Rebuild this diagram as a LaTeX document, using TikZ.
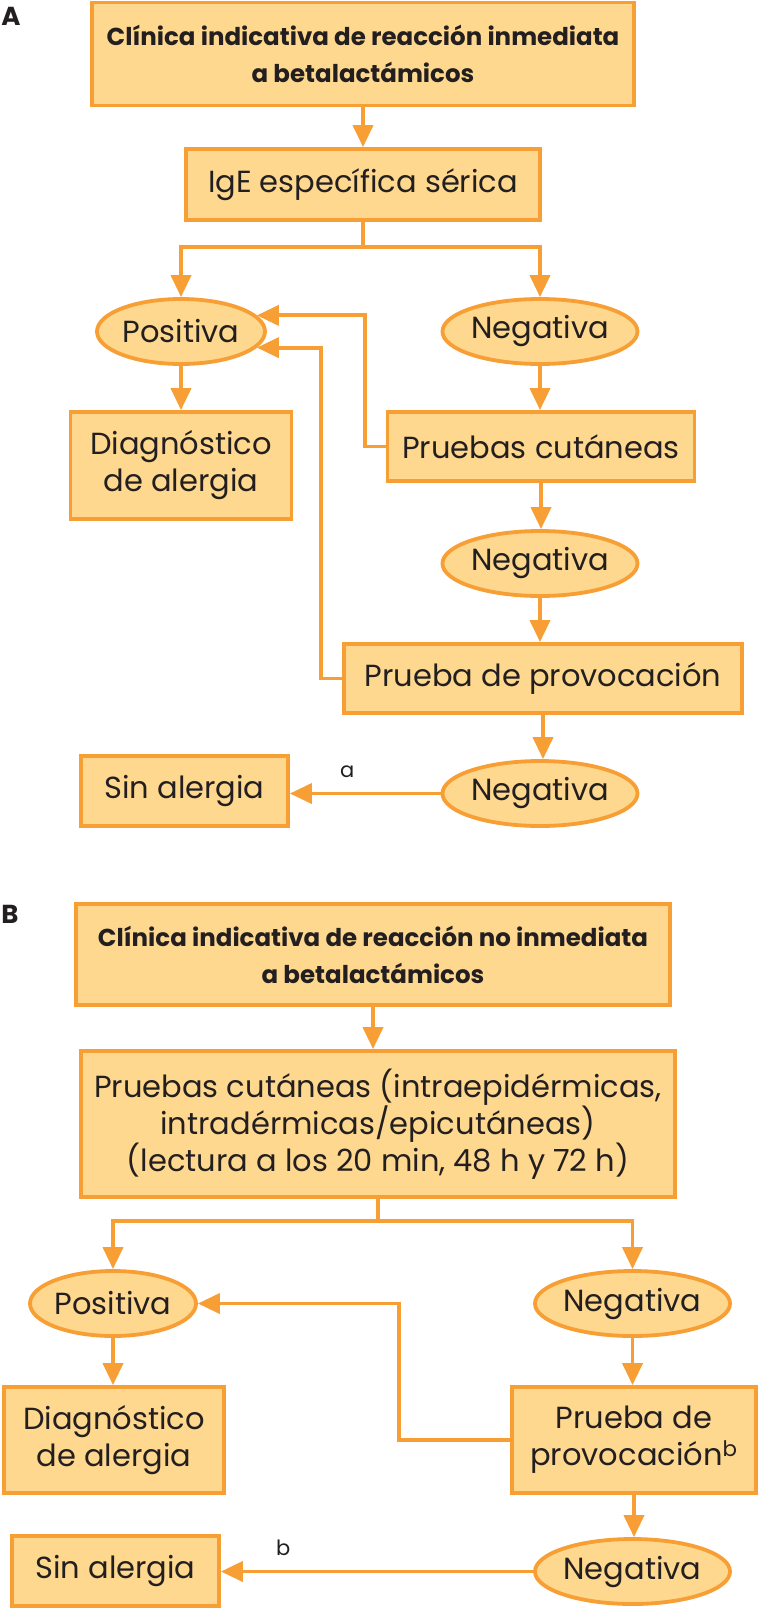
\documentclass[tikz,border=0pt]{standalone}
\usepackage{fontspec}
\setmainfont{Poppins}
\usetikzlibrary{arrows.meta,shapes.geometric}
\definecolor{borde}{RGB}{247,158,52}
\definecolor{relleno}{RGB}{254,216,142}
\definecolor{texto}{RGB}{35,31,32}
\tikzset{
  caja/.style={draw=borde, fill=relleno, line width=3.8pt, align=center, inner sep=0pt,
    text=texto, font=\fontsize{30.5}{37}\selectfont},
  titulo/.style={caja, font=\fontsize{24.5}{37}\selectfont\bfseries},
  elipse/.style={caja, ellipse, minimum width=#1, minimum height=65pt},
  flecha/.style={draw=borde, line width=3.8pt, -{Triangle[length=22pt,width=20pt]}},
  etiqueta/.style={text=texto, font=\fontsize{21}{21}\selectfont, inner sep=0pt},
  panel/.style={text=texto, font=\fontsize{26}{26}\selectfont\bfseries, inner sep=0pt},
}
\begin{document}
\begin{tikzpicture}[x=1pt,y=-1pt]
  \useasboundingbox (0,0) rectangle (759,1609);
  % A: reaccion inmediata
  \node[panel] (letraA) at (11,16) {A};
  \node[titulo, minimum width=542pt, minimum height=103pt] (tituloA) at (363,54)
    {Clínica indicativa de reacción inmediata\\a betalactámicos};
  \node[caja, minimum width=354pt, minimum height=71pt] (igeA) at (363,184.5) {IgE específica sérica};
  \node[elipse=168pt] (posA) at (181,331.5) {Positiva};
  \node[elipse=183pt] (negA) at (540,331.5) {Negativa};
  \node[caja, minimum width=221pt, minimum height=107pt] (diagA) at (181,465.5) {Diagnóstico\\de alergia};
  \node[caja, minimum width=307pt, minimum height=69pt] (cutA) at (541,446.5) {Pruebas cutáneas};
  \node[elipse=182pt] (neg2A) at (540,563.5) {Negativa};
  \node[caja, minimum width=398pt, minimum height=69pt] (provA) at (543,678.5) {Prueba de provocación};
  \node[elipse=182pt] (neg3A) at (540,793.5) {Negativa};
  \node[caja, minimum width=207pt, minimum height=70pt] (sinA) at (184.5,791) {Sin alergia};

  \draw[flecha] (tituloA.south) -- (tituloA.south |- igeA.north);
  \draw[flecha] (igeA.south) -- ++(0,25) -| (posA.north);
  \draw[flecha] (igeA.south) -- ++(0,25) -| (negA.north);
  \draw[flecha] (posA.south) -- (posA.south |- diagA.north);
  \foreach \a/\b in {negA/cutA, cutA/neg2A, neg2A/provA, provA/neg3A}
    \draw[flecha] (\a.south) -- (\a.south |- \b.north);
  \draw[flecha] (cutA.west) -- ++(-21,0) |- (posA.12);
  \draw[flecha] (provA.west) -- ++(-21,0) |- (posA.-12);
  \draw[flecha] (neg3A.west) -- (neg3A.west -| sinA.east)
    node[etiqueta, pos=0.62, above=14pt] (notaA) {a};

  % B: reaccion no inmediata
  \node[panel] (letraB) at (10,914) {B};
  \node[titulo, minimum width=594pt, minimum height=101pt] (tituloB) at (373,954.5)
    {Clínica indicativa de reacción no inmediata\\a betalactámicos};
  \node[caja, minimum width=594pt, minimum height=146pt] (cutB) at (378,1124)
    {Pruebas cutáneas (intraepidérmicas,\\intradérmicas/epicutáneas)\\(lectura a los 20 min, 48 h y 72 h)};
  \node[elipse=166pt] (posB) at (113,1303.5) {Positiva};
  \node[elipse=183pt] (negB) at (632.5,1303.5) {Negativa};
  \node[caja, minimum width=220pt, minimum height=106pt] (diagB) at (114,1440) {Diagnóstico\\de alergia};
  \node[caja, minimum width=244pt, minimum height=106pt] (provB) at (634,1440) {Prueba de\\provocación\textsuperscript{b}};
  \node[elipse=183pt] (neg2B) at (632.5,1571.5) {Negativa};
  \node[caja, minimum width=207pt, minimum height=70pt] (sinB) at (115.5,1571) {Sin alergia};

  \draw[flecha] (tituloB.south) -- (tituloB.south |- cutB.north);
  \draw[flecha] (cutB.south) -- ++(0,22) -| (posB.north);
  \draw[flecha] (cutB.south) -- ++(0,22) -| (negB.north);
  \draw[flecha] (posB.south) -- (posB.south |- diagB.north);
  \foreach \a/\b in {negB/provB, provB/neg2B}
    \draw[flecha] (\a.south) -- (\a.south |- \b.north);
  \draw[flecha] (provB.west) -- ++(-111,0) |- (posB.east);
  \draw[flecha] (neg2B.west) -- (neg2B.west -| sinB.east)
    node[etiqueta, pos=0.8, above=14pt] (notaB) {b};
\end{tikzpicture}
\end{document}
